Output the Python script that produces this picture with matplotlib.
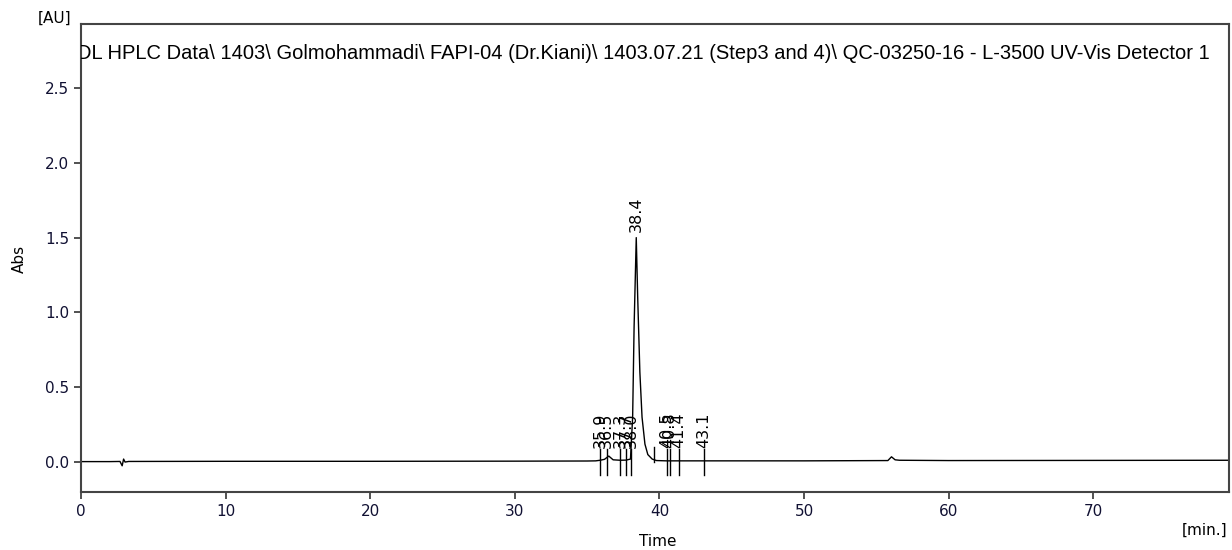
import matplotlib
matplotlib.use("Agg")
import matplotlib.pyplot as plt

# chromatogram trace (time in min, absorbance in AU)
time = [0.0, 2.0, 2.7, 2.85, 2.95, 3.05, 3.3, 10.0, 20.0, 30.0, 35.0, 35.6, 35.9,
        36.2, 36.5, 36.8, 37.3, 37.7, 38.0, 38.15, 38.25, 38.4, 38.5, 38.65,
        38.8, 39.0, 39.2, 39.5, 39.8, 40.5, 41.4, 43.1, 50.0, 55.8, 56.05,
        56.3, 56.6, 60.0, 70.0, 79.4]
absorb = [0.003, 0.003, 0.004, -0.025, 0.02, 0.0, 0.004, 0.005, 0.005, 0.006, 0.007,
          0.008, 0.012, 0.018, 0.04, 0.015, 0.012, 0.013, 0.02, 0.3, 0.9, 1.5,
          1.1, 0.6, 0.3, 0.12, 0.05, 0.02, 0.01, 0.008, 0.008, 0.008, 0.008,
          0.01, 0.035, 0.015, 0.012, 0.01, 0.011, 0.012]

# integrated peaks
peak_rt = [35.9, 36.35, 37.28, 37.7, 38.05, 40.5, 40.7, 41.35, 43.1]
peak_labels = ["35.9", "36.5", "37.3", "37.7", "38.0", "40.5", "40.8", "41.4", "43.1"]
main_rt, main_h, main_label = 38.4, 1.5, "38.4"
extra_mark = [39.6]

title = ("DL HPLC Data\\ 1403\\ Golmohammadi\\ FAPI-04 (Dr.Kiani)\\ 1403.07.21 "
         "(Step3 and 4)\\ QC-03250-16 - L-3500 UV-Vis Detector 1")

fig = plt.figure(figsize=(12.32, 5.5), dpi=100)
ax = fig.add_axes([0.0657, 0.1055, 0.932, 0.8509])

ax.plot(time, absorb, color="black", lw=1.0)

for rt, lab in zip(peak_rt, peak_labels):
    ax.plot([rt, rt], [-0.087, 0.09], color="black", lw=1.0)
    ax.text(rt, 0.095, lab, rotation=90, ha="center", va="bottom", fontsize=11.5)
for rt in extra_mark:
    ax.plot([rt, rt], [0.0, 0.1], color="black", lw=1.0)
ax.text(main_rt, main_h + 0.04, main_label, rotation=90, ha="center", va="bottom",
        fontsize=11.5)

ax.set_xlim(0, 79.4)
ax.set_ylim(-0.2, 2.928)
ax.set_xticks(range(0, 80, 10))
ax.set_yticks([0.0, 0.5, 1.0, 1.5, 2.0, 2.5])
ax.set_yticklabels(["0.0", "0.5", "1.0", "1.5", "2.0", "2.5"])
ax.tick_params(axis="both", direction="out", length=5, width=1.2,
               labelsize=11, colors="#333333", labelcolor="#111133")
ax.tick_params(axis="x", pad=4)
for s in ax.spines.values():
    s.set_color("#444444")
    s.set_linewidth(1.5)

ax.text(-0.25, 2.73, title, ha="left", va="center", fontsize=14.5,
        family="Liberation Sans", clip_on=True)

fig.text(0.058, 0.967, "[AU]", ha="right", va="center", fontsize=11)
fig.text(0.996, 0.035, "[min.]", ha="right", va="center", fontsize=11)
fig.text(0.534, 0.015, "Time", ha="center", va="center", fontsize=11)
fig.text(0.016, 0.53, "Abs", ha="center", va="center", rotation=90, fontsize=11)

fig.savefig("out.png", dpi=100)
